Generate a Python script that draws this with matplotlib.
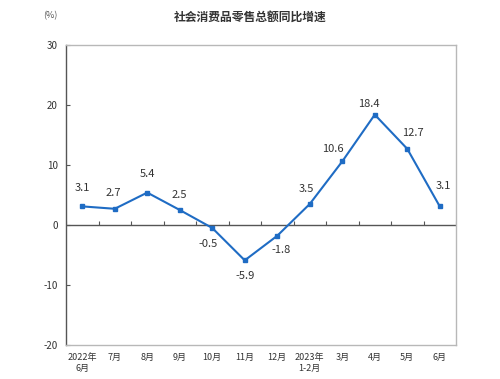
import matplotlib.pyplot as plt
import numpy as np

plt.rcParams['font.family'] = ['Noto Sans CJK SC', 'DejaVu Sans']
plt.rcParams['axes.unicode_minus'] = False

months = ['2022年\n6月', '7月', '8月', '9月', '10月', '11月', '12月',
          '2023年\n1-2月', '3月', '4月', '5月', '6月']
growth = [3.1, 2.7, 5.4, 2.5, -0.5, -5.9, -1.8, 3.5, 10.6, 18.4, 12.7, 3.1]
# where each value label sits relative to its point (pixels)
label_offsets = [(0, 18), (-1, 16), (0, 19), (0, 15), (-4, -16), (0, -16),
                 (4, -14), (-3, 15), (-9, 12), (-6, 11), (6, 16), (4, 20)]

x = np.arange(len(growth))
blue = '#1f6cc4'
txt = '#333333'

fig = plt.figure(figsize=(5, 3.79), dpi=100)
ax = fig.add_axes([0.132, 0.09, 0.78, 0.791])

ax.plot(x, growth, color=blue, lw=1.5, marker='s', ms=3.5, zorder=3)
for xi, v, off in zip(x, growth, label_offsets):
    ax.annotate(f'{v:.1f}', (xi, v), xytext=off, textcoords='offset pixels',
                ha='center', va='center', fontsize=8, color=txt)

ax.axhline(0, color='#555555', lw=1.0, zorder=1)
ax.vlines(np.arange(len(growth) + 1) - 0.5, 0, 0.6, color='#555555', lw=0.8)

ax.set_xlim(-0.5, len(growth) - 0.5)
ax.set_ylim(-20, 30)
ax.set_yticks([-20, -10, 0, 10, 20, 30])
ax.set_xticks(x)
ax.set_xticklabels(months, fontsize=6.5, color=txt, linespacing=1.3)
ax.tick_params(axis='x', length=0, pad=6)
ax.tick_params(axis='y', direction='in', length=3, labelsize=7, colors='#555555',
               labelcolor=txt, pad=6)

for side in ['top', 'right', 'bottom']:
    ax.spines[side].set_color('#b8b8b8')
    ax.spines[side].set_linewidth(1.0)
ax.spines['left'].set_color('#555555')
ax.spines['left'].set_linewidth(1.0)

fig.text(0.5, 0.955, '社会消费品零售总额同比增速', ha='center', va='center',
         fontsize=8.5, color=txt, fontweight='bold')
fig.text(0.1, 0.958, '(%)', ha='center', va='center', fontsize=6.5, color='#555555')

fig.savefig('out.png', dpi=100)
